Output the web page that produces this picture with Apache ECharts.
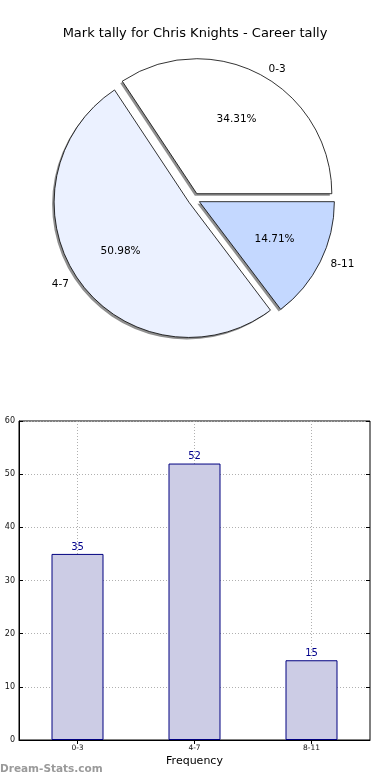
<!DOCTYPE html>
<html>
<head>
<meta charset="utf-8">
<script src="https://cdn.jsdelivr.net/npm/echarts@6/dist/echarts.min.js"></script>
<style>html,body{margin:0;padding:0;background:#fff;}#c{width:390px;height:780px;}</style>
</head>
<body>
<div id="c"></div>
<script>
const titleText = 'Mark tally for Chris Knights - Career tally';
const categories = ['0-3', '4-7', '8-11'];
const counts = [35, 52, 15];
const pieColors = ['#FFFFFF', '#EBF1FF', '#C4D8FF'];
const yTicks = { min: 0, max: 60, interval: 10 };
const xName = 'Frequency';
const watermark = 'Dream-Stats.com';

const font = 'DejaVu Sans';
const chart = echarts.init(document.getElementById('c'), null, { renderer: 'canvas' });

const pieCenter = [194, 199];
const shadowCenter = [192, 201];
const pieR = 135;

const mainPieData = categories.map((c, i) => ({
  name: c, value: counts[i], selected: true,
  itemStyle: { color: pieColors[i] }
}));
const plainPieData = categories.map((c, i) => ({
  name: c, value: counts[i], selected: true
}));

const pieCommon = {
  type: 'pie', startAngle: 0, clockwise: false,
  selectedMode: 'multiple', selectedOffset: 6,
  avoidLabelOverlap: false, silent: true,
  emphasis: { disabled: true }
};

chart.setOption({
  animation: false,
  backgroundColor: '#fff',
  title: {
    text: titleText, left: 'center', top: 22,
    textStyle: { fontFamily: font, fontSize: 13, fontWeight: 'normal', color: '#000' }
  },
  graphic: [{
    type: 'text', left: 0, top: 764,
    style: { text: watermark, fontFamily: font, fontSize: 10.5, fontWeight: 'bold', fill: '#9a9a9a' }
  }],
  grid: {
    left: 19, right: 20, top: 421, bottom: 40,
    show: true, borderColor: '#000', borderWidth: 1, backgroundColor: 'transparent'
  },
  xAxis: [{
    type: 'category', data: categories, position: 'bottom',
    name: xName, nameLocation: 'middle', nameGap: 16,
    nameTextStyle: { fontFamily: font, fontSize: 11, color: '#000' },
    axisLine: { show: true, lineStyle: { color: '#000' } },
    axisTick: { show: true, inside: true, alignWithLabel: true, length: 4, lineStyle: { color: '#000' } },
    axisLabel: { fontFamily: font, fontSize: 7.5, color: '#111', margin: 4 },
    splitLine: { show: true, alignWithLabel: true, lineStyle: { color: '#b0b0b0', type: [1, 2], width: 1 } }
  }, {
    type: 'category', data: categories, position: 'top',
    axisLine: { show: false },
    axisTick: { show: true, inside: true, alignWithLabel: true, length: 4, lineStyle: { color: '#000' } },
    axisLabel: { show: false }, splitLine: { show: false }
  }],
  yAxis: [{
    type: 'value', min: yTicks.min, max: yTicks.max, interval: yTicks.interval,
    axisLine: { show: true, lineStyle: { color: '#000' } },
    axisTick: { show: true, inside: true, length: 4, lineStyle: { color: '#000' } },
    axisLabel: { fontFamily: font, fontSize: 8, color: '#111', margin: 4 },
    splitLine: { show: true, lineStyle: { color: '#b0b0b0', type: [1, 2], width: 1 } }
  }, {
    type: 'value', min: yTicks.min, max: yTicks.max, interval: yTicks.interval, position: 'right',
    axisLine: { show: false },
    axisTick: { show: true, inside: true, length: 4, lineStyle: { color: '#000' } },
    axisLabel: { show: false }, splitLine: { show: false }
  }],
  series: [
    Object.assign({}, pieCommon, {
      center: shadowCenter, radius: pieR, z: 1,
      itemStyle: { color: '#8f8f8f', borderWidth: 0 },
      label: { show: false }, labelLine: { show: false },
      data: plainPieData
    }),
    Object.assign({}, pieCommon, {
      center: pieCenter, radius: pieR, z: 2,
      itemStyle: { borderColor: '#000', borderWidth: 0.8 },
      label: { show: true, position: 'outside', formatter: '{b}', fontFamily: font, fontSize: 10.5, color: '#000', distanceToLabelLine: 5 },
      labelLine: { show: false, length: 6, length2: 0 },
      data: mainPieData
    }),
    Object.assign({}, pieCommon, {
      center: pieCenter, radius: pieR * 1.2, z: 3,
      itemStyle: { color: 'rgba(0,0,0,0)', borderWidth: 0 },
      label: { show: true, position: 'inside', formatter: '{d}%', fontFamily: font, fontSize: 10.5, color: '#000' },
      labelLine: { show: false },
      data: plainPieData
    }),
    {
      type: 'bar', xAxisIndex: 0, yAxisIndex: 0, data: counts, barWidth: 52,
      itemStyle: { color: '#CCCCE5', borderColor: '#000080', borderWidth: 1 },
      label: { show: true, position: 'top', distance: 2, fontFamily: font, fontSize: 10, color: '#00008B' },
      silent: true
    }
  ]
});
</script>
</body>
</html>
